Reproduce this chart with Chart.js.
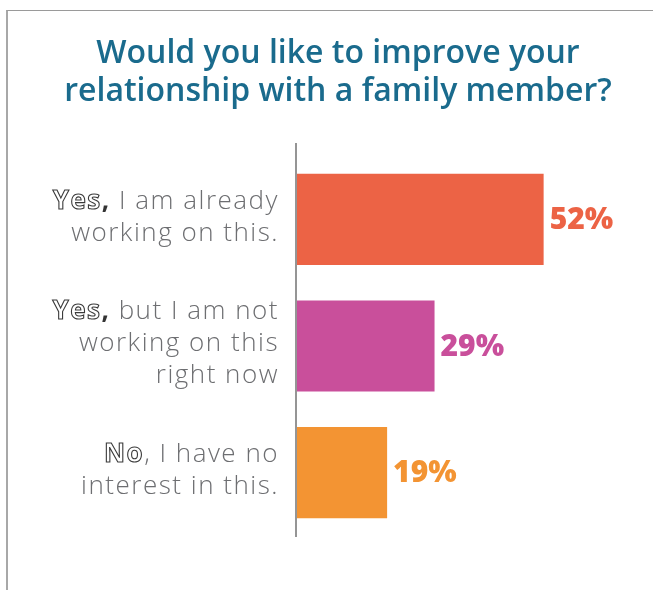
<!DOCTYPE html>
<html>
<head>
<meta charset="utf-8">
<script src="https://cdn.jsdelivr.net/npm/chart.js@4"></script>
<style>
  body { margin: 0; background: #fff; }
  #wrap { position: relative; width: 653px; height: 590px; overflow: hidden; }
  #frame { position: absolute; left: 6px; top: 10px; right: 0; bottom: 0; border-top: 1px solid #9a9a9a; border-left: 2px solid #a8a8a8; }
  canvas { position: absolute; left: 0; top: 0; }
</style>
</head>
<body>
<div id="wrap">
  <div id="frame"></div>
  <canvas id="chart" width="653" height="590"></canvas>
</div>
<script>
const titleLines = ["Would you like to improve your", "relationship with a family member?"];
const leadWords = ["Yes,", "Yes,", "No"];
const labelLines = [
  ["Yes, I am already", "working on this."],
  ["Yes, but I am not", "working on this", "right now"],
  ["No, I have no", "interest in this."]
];
const values = [52, 29, 19];
const colors = ["#ec6345", "#c94f9b", "#f39433"];

const labelFont = "300 26px 'Open Sans'";
const leadFont = "700 26px 'Open Sans'";
const valueFont = "800 30px 'Open Sans'";

// category labels, axis line and value labels
const sideLabels = {
  id: "sideLabels",
  afterDraw(chart) {
    const { ctx, chartArea, scales } = chart;
    const y = scales.y;
    ctx.save();

    ctx.strokeStyle = "#959595";
    ctx.lineWidth = 2;
    ctx.beginPath();
    ctx.moveTo(chartArea.left - 1, chartArea.top - 13);
    ctx.lineTo(chartArea.left - 1, chartArea.bottom + 1);
    ctx.stroke();

    ctx.textAlign = "right";
    ctx.textBaseline = "middle";
    ctx.letterSpacing = "1.5px";
    const lh = 32;
    const xr = chartArea.left - 18;
    labelLines.forEach((lines, i) => {
      const cy = y.getPixelForValue(i) - 2;
      const top = cy - (lines.length - 1) * lh / 2;
      lines.forEach((line, j) => {
        const ly = top + j * lh;
        const lead = leadWords[i];
        if (j === 0 && line.startsWith(lead)) {
          const rest = line.slice(lead.length);
          ctx.font = labelFont;
          ctx.fillStyle = "#6d6e71";
          ctx.fillText(rest, xr, ly);
          let x = xr - ctx.measureText(rest).width;
          ctx.font = leadFont;
          let word = lead;
          if (lead.endsWith(",")) {
            word = lead.slice(0, -1);
            ctx.fillStyle = "#333";
            ctx.fillText(",", x, ly);
            x -= ctx.measureText(",").width;
          }
          ctx.strokeStyle = "#3a3a3a";
          ctx.lineWidth = 1.1;
          ctx.strokeText(word, x, ly);
        } else {
          ctx.font = labelFont;
          ctx.fillStyle = "#6d6e71";
          ctx.fillText(line, xr, ly);
        }
      });
    });

    ctx.letterSpacing = "0px";
    ctx.textAlign = "left";
    ctx.font = valueFont;
    chart.getDatasetMeta(0).data.forEach((bar, i) => {
      ctx.fillStyle = colors[i];
      ctx.fillText(values[i] + "%", bar.x + 6, bar.y + 1);
    });
    ctx.restore();
  }
};

new Chart(document.getElementById("chart"), {
  type: "bar",
  data: {
    labels: labelLines.map(l => l.join(" ")),
    datasets: [{
      data: values,
      backgroundColor: colors,
      barPercentage: 0.72,
      categoryPercentage: 1
    }]
  },
  options: {
    indexAxis: "y",
    responsive: false,
    animation: false,
    layout: { padding: { left: 47, right: 24, top: 0, bottom: 54 } },
    plugins: {
      legend: { display: false },
      tooltip: { enabled: false },
      title: {
        display: true,
        text: titleLines,
        color: "#1a6b8d",
        font: { family: "'Open Sans'", size: 32, weight: "600", lineHeight: "38px" },
        padding: { top: 35, bottom: 45 }
      }
    },
    scales: {
      x: { display: false, min: 0, max: 70 },
      y: {
        grid: { display: false },
        border: { display: false },
        ticks: { display: false },
        afterFit(scale) { scale.width = 250; }
      }
    }
  },
  plugins: [sideLabels]
});
</script>
</body>
</html>
